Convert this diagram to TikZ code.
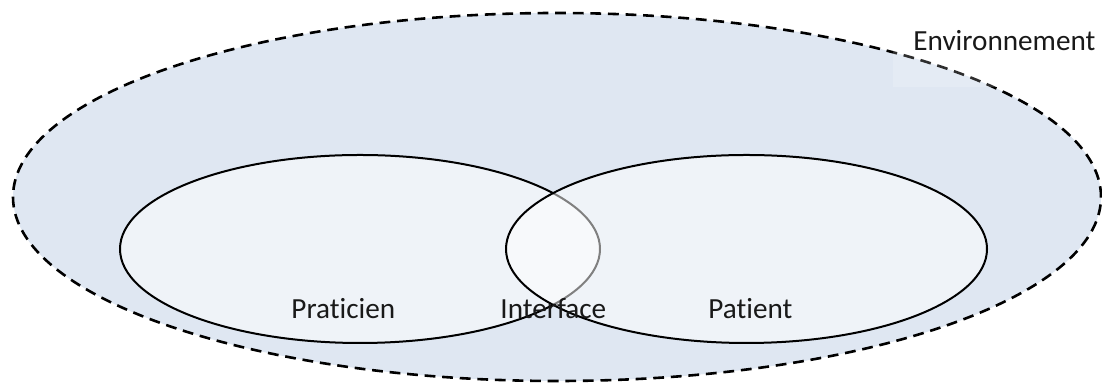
\documentclass[tikz,border=0pt]{standalone}
\usepackage{fontspec}
\setmainfont[Ligatures={NoCommon},RawFeature={-liga;-clig;-dlig}]{Carlito}
\usetikzlibrary{shapes.geometric}
\definecolor{envfill}{RGB}{223,231,242}
\begin{document}
\begin{tikzpicture}[x=0.5pt,y=-0.5pt,
  envstyle/.style={ellipse, draw=black, line width=1.3pt, dash pattern=on 5.4pt off 3.4pt, fill=envfill, inner sep=0pt, minimum width=544pt, minimum height=184pt},
  partstyle/.style={ellipse, draw=black, line width=1pt, fill=white, fill opacity=0.5, draw opacity=1, inner sep=0pt, minimum width=240pt, minimum height=94pt},
  lbl/.style={anchor=base west, inner sep=0pt, font=\fontsize{14.6}{17}\selectfont, text=black!90}]
\useasboundingbox (0,0) rectangle (1102,383);
\node[envstyle] (env) at (557,197) {};
\fill[white, opacity=0.18] (893,22) rectangle (1102,87);
\node[partstyle] (prat) at (360,249) {};
\node[partstyle, minimum width=240.5pt] (pat) at (746.5,249) {};
\node[lbl] (tenv) at (913,51) {Environnement};
\node[lbl] (tprat) at (291,319) {Praticien};
\node[lbl] (tint) at (500,319) {Interface};
\node[lbl] (tpat) at (708,319) {Patient};
\end{tikzpicture}
\end{document}
